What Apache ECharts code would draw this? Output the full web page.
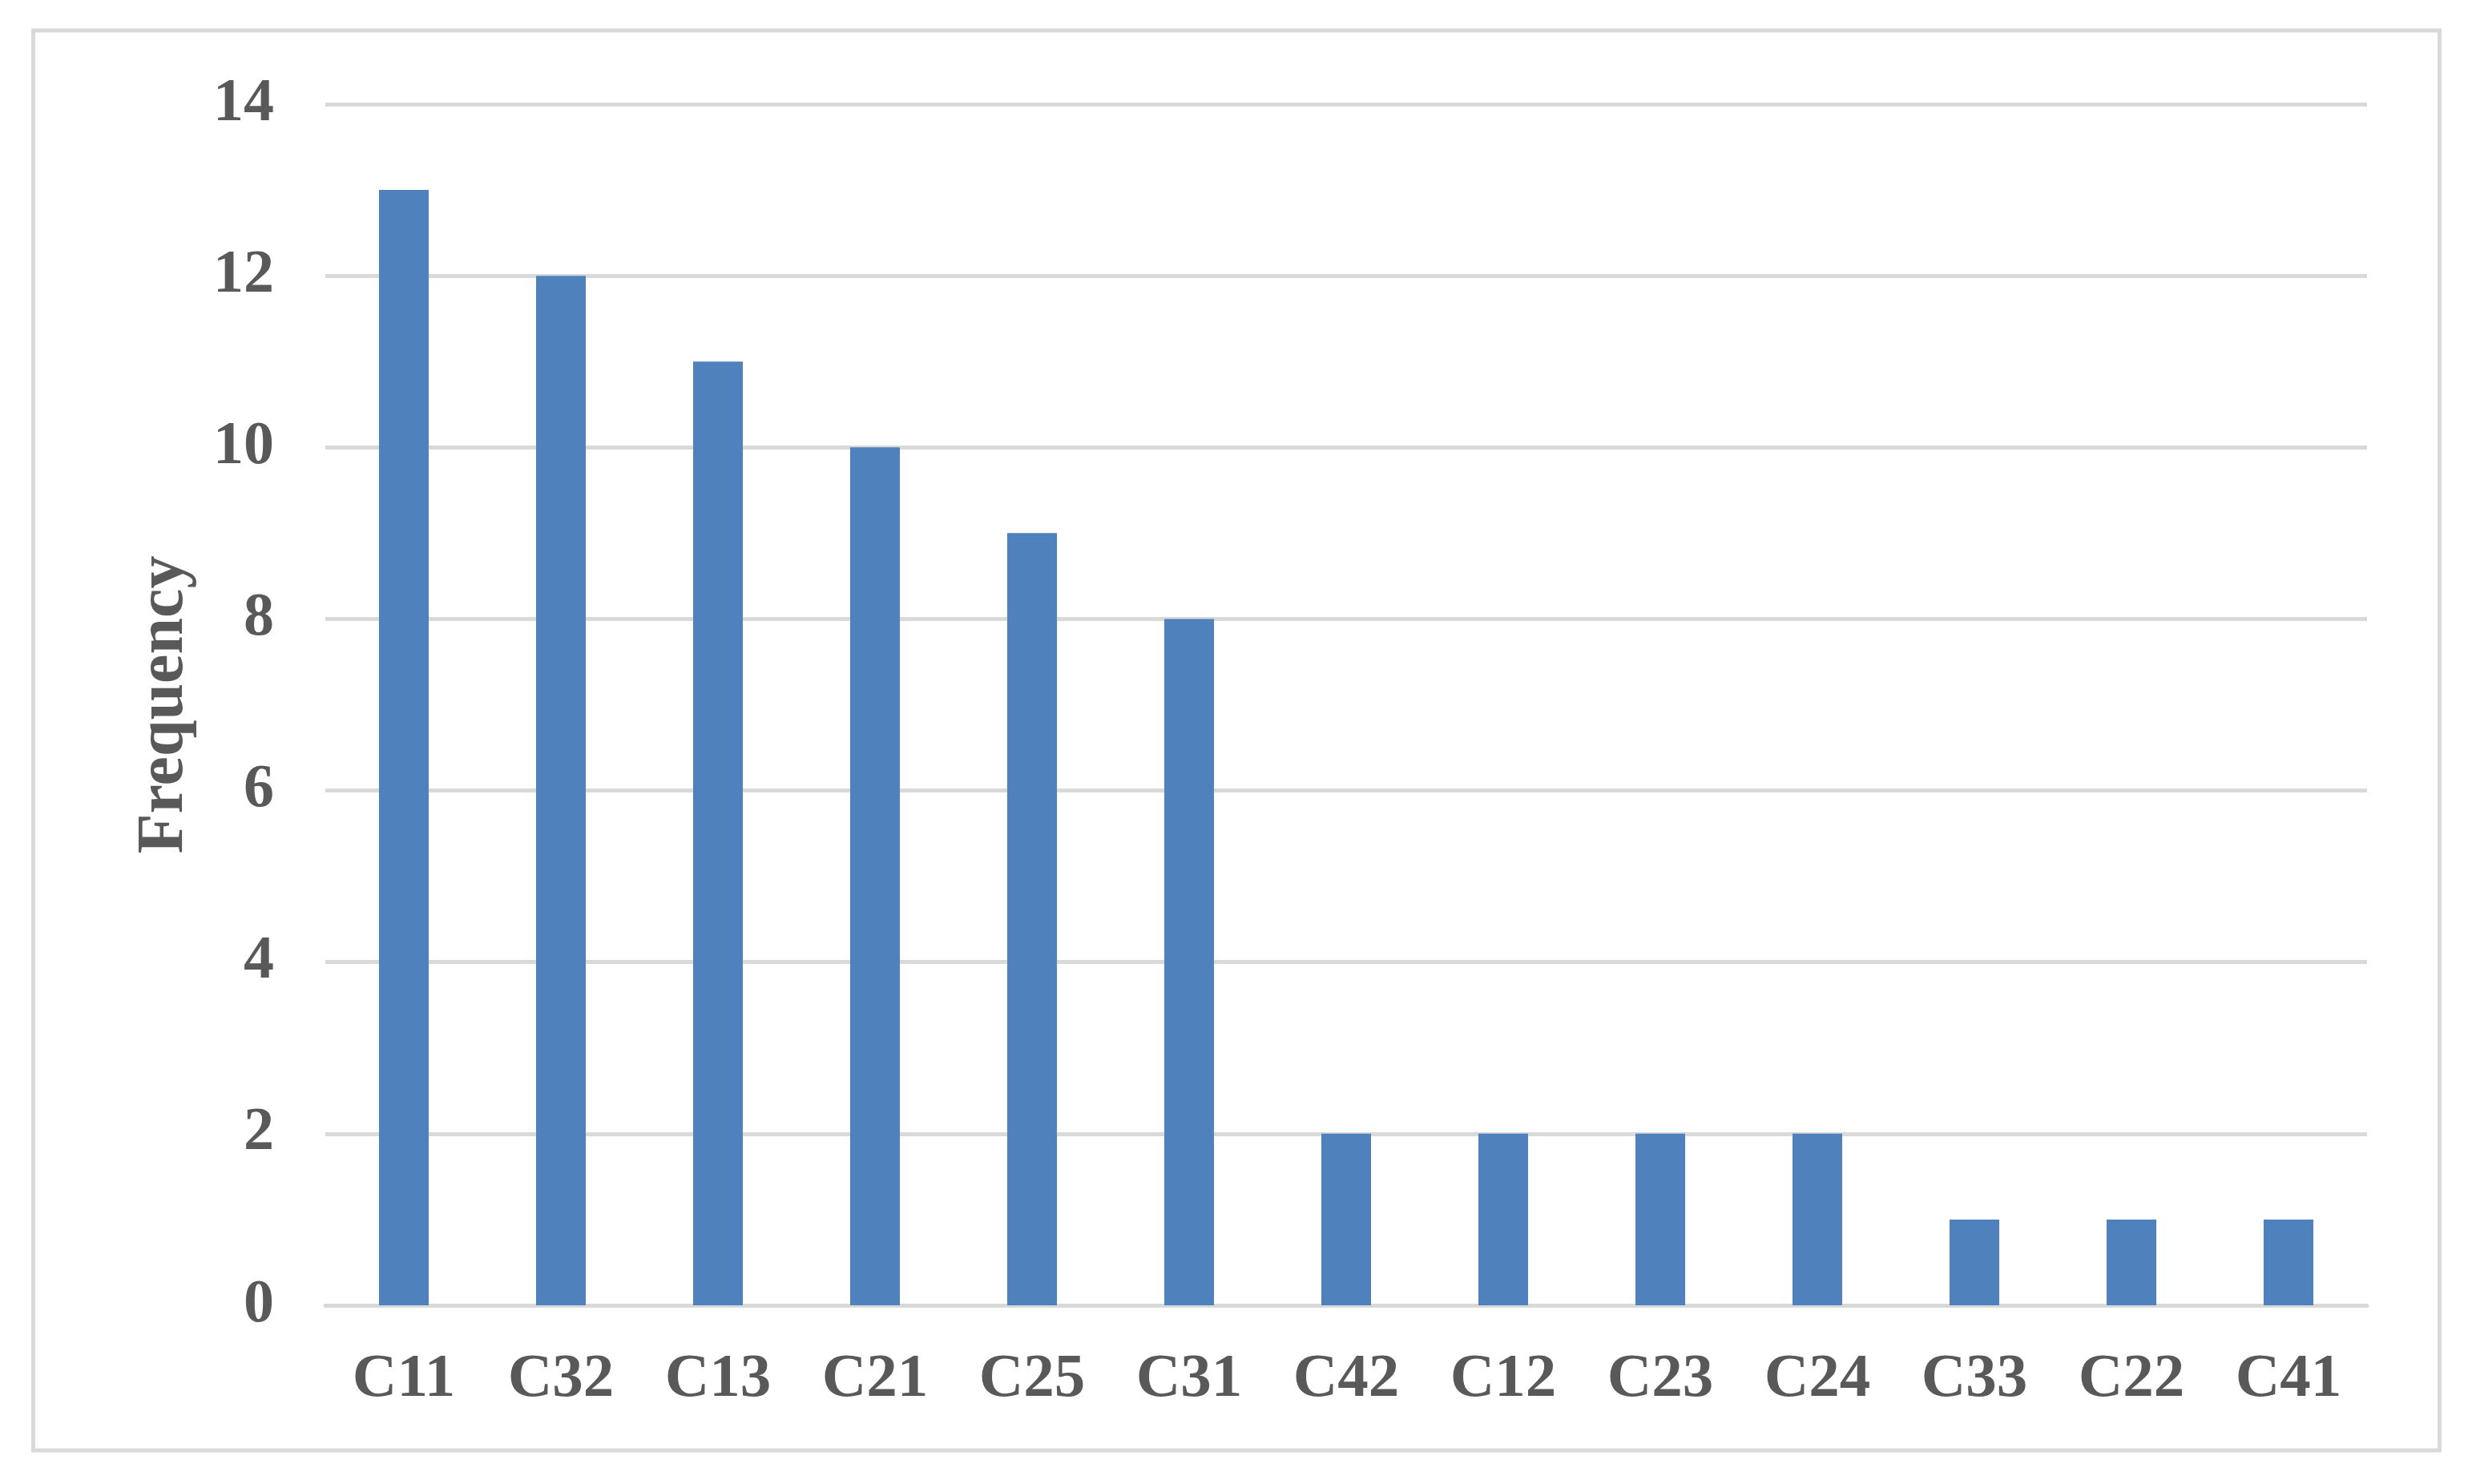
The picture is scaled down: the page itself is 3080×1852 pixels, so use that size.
<!DOCTYPE html>
<html>
<head>
<meta charset="utf-8">
<title>Frequency</title>
<script src="https://cdn.jsdelivr.net/npm/echarts@6/dist/echarts.min.js"></script>
<style>
  html, body { margin: 0; padding: 0; background: #ffffff; }
  #chart { width: 3080px; height: 1852px; }
</style>
</head>
<body>
<div id="chart"></div>
<script>
// categories along the x axis
const categories = ['C11', 'C32', 'C13', 'C21', 'C25', 'C31', 'C42', 'C12', 'C23', 'C24', 'C33', 'C22', 'C41'];
// bar heights (frequency)
const frequency = [13, 12, 11, 10, 9, 8, 2, 2, 2, 2, 1, 1, 1];
// y axis range / ticks
const yMin = 0;
const yMax = 14;
const yStep = 2;

const textColor = '#595959';
const lineColor = '#d9d9d9';
const fontFamily = '"Liberation Serif", "Times New Roman", serif';

var myChart = echarts.init(document.getElementById('chart'));

var option = {
    backgroundColor: '#ffffff',
    animation: false,
    // outer frame of the chart area
    graphic: [{
        type: 'rect',
        shape: { x: 41.5, y: 38, width: 3003, height: 1772 },
        style: { fill: 'none', stroke: lineColor, lineWidth: 5 },
        silent: true
    }],
    grid: {
        left: 406,
        right: 126,
        top: 130,
        bottom: 223
    },
    xAxis: {
        type: 'category',
        data: categories,
        axisLine: {
            show: true,
            lineStyle: { color: lineColor, width: 5 }
        },
        axisTick: { show: false },
        axisLabel: {
            color: textColor,
            fontFamily: fontFamily,
            fontWeight: 'bold',
            fontSize: 77,
            margin: 55
        }
    },
    yAxis: {
        type: 'value',
        min: yMin,
        max: yMax,
        interval: yStep,
        name: 'Frequency',
        nameLocation: 'middle',
        nameGap: 159,
        nameRotate: 90,
        nameTextStyle: {
            color: textColor,
            fontFamily: fontFamily,
            fontWeight: 'bold',
            fontSize: 82
        },
        axisLine: { show: false },
        axisTick: { show: false },
        axisLabel: {
            color: textColor,
            fontFamily: fontFamily,
            fontWeight: 'bold',
            fontSize: 76,
            margin: 64
        },
        splitLine: {
            show: true,
            lineStyle: { color: lineColor, width: 5 }
        }
    },
    series: [{
        type: 'bar',
        data: frequency,
        barWidth: 62,
        itemStyle: { color: '#4f81bd' }
    }]
};

myChart.setOption(option);
</script>
</body>
</html>
